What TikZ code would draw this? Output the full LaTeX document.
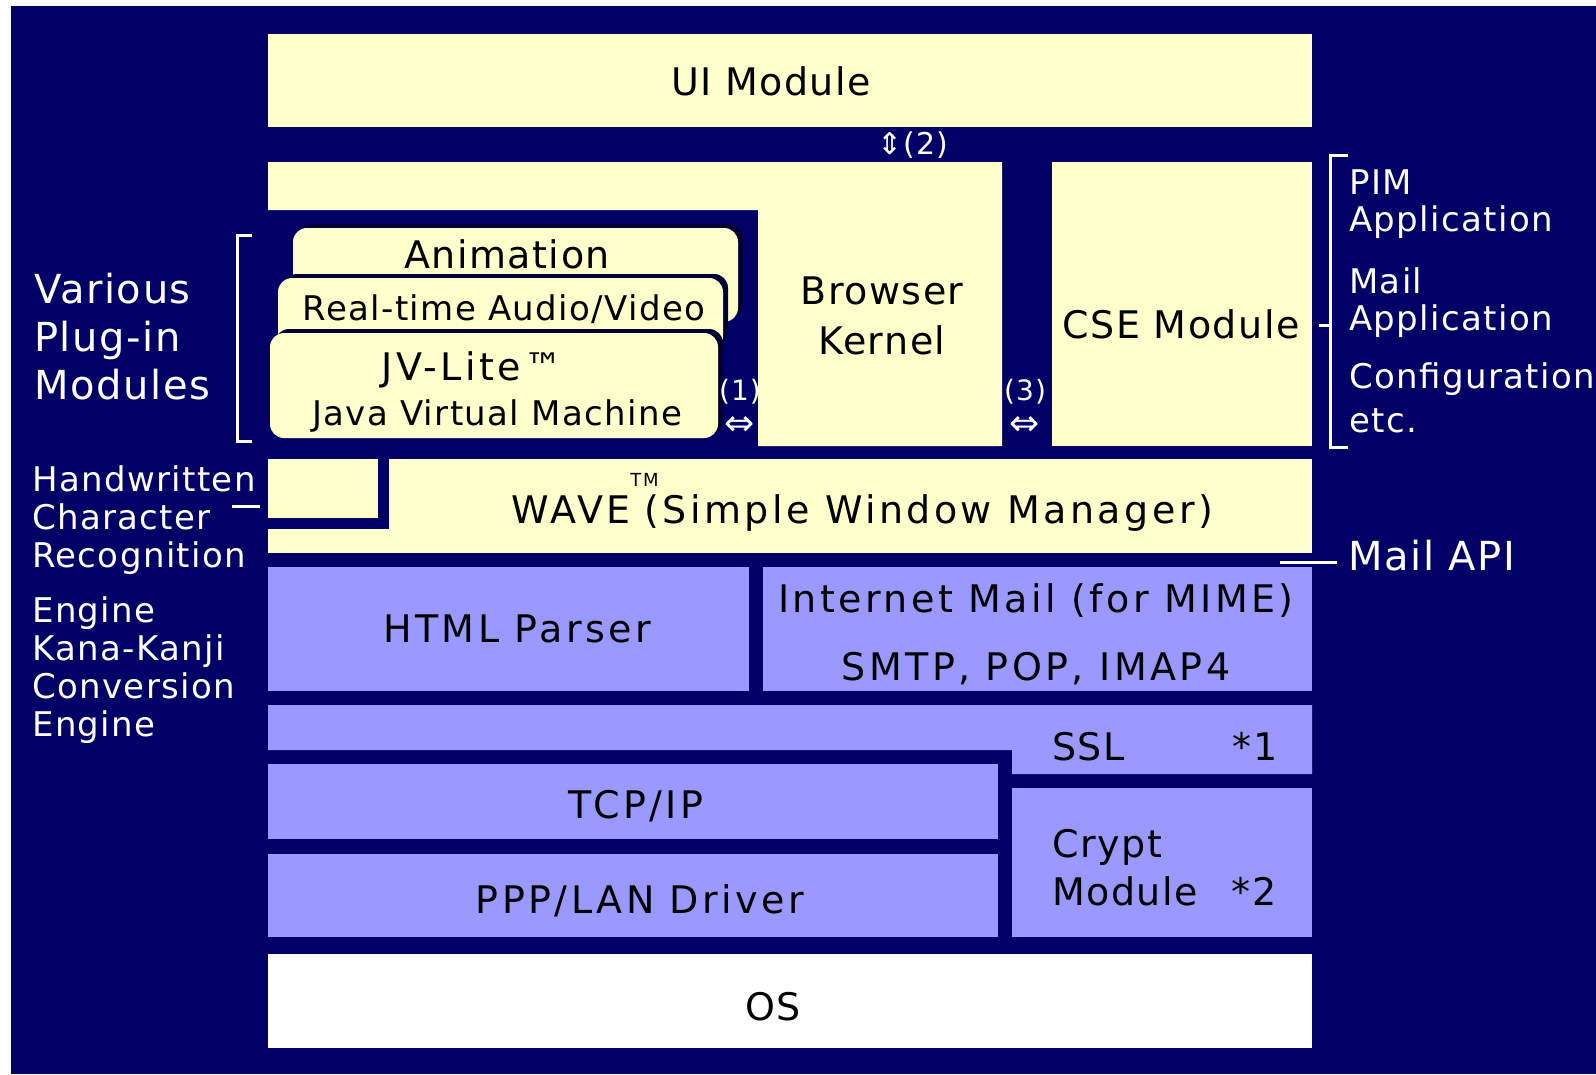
\documentclass[tikz,border=0pt]{standalone}
\usepackage{fontspec}
\setmainfont{DejaVu Sans}[LetterSpace=4]
\definecolor{pnavy}{HTML}{000066}
\definecolor{pcream}{HTML}{FFFFCC}
\definecolor{plilac}{HTML}{9999FF}
\definecolor{pshadow}{HTML}{000033}
\begin{document}
\begin{tikzpicture}[x=1pt, y=-1pt,
    lbl/.style={inner sep=0pt, text=black, font=\fontsize{38}{46}\selectfont},
    wide/.style={lbl, font=\fontsize{38}{46}\selectfont\addfontfeature{LetterSpace=9}},
    side/.style={inner sep=0pt, text=white, align=left, font=\fontsize{34}{37}\selectfont},
    numtag/.style={inner sep=0pt, text=white, align=center, font=\fontsize{28}{35}\selectfont},
    plugbox/.style={fill=pcream, rounded corners=14pt},
    plugshade/.style={fill=pshadow, rounded corners=14pt},
    sidebracket/.style={draw=white, line width=3pt}]
  \useasboundingbox (0,0) rectangle (1596,1074);
  \fill[white] (0,0) rectangle (1596,1074);
  \fill[pnavy] (11,6) rectangle (1596,1074);

  % application layer
  \fill[pcream] (268,34) rectangle (1312,127);
  \node[lbl, anchor=base] (ui) at (771,95) {UI Module};
  \node[numtag, font=\fontsize{30}{30}\selectfont] (two) at (913,145) {⇕(2)};
  \fill[pcream] (268,162) -- (1002,162) -- (1002,446) -- (758,446) -- (758,210) -- (268,210) -- cycle;
  \node[lbl, align=center, anchor=north, font=\fontsize{38}{50}\selectfont] (kernel) at (882,277) {Browser\\Kernel};
  \fill[pcream] (1052,162) rectangle (1312,446);
  \node[lbl, anchor=base] (cse) at (1181,338) {CSE Module};

  % plug-ins
  \foreach \l/\t/\r/\b in {293/228/738/322, 278/278/723/350, 270/333/718/438} {
    \fill[plugshade] (\l+5,\t-4) rectangle (\r+5,\b-4);
    \fill[plugbox] (\l,\t) rectangle (\r,\b);
  }
  \node[lbl, anchor=base] (anim) at (507,268) {Animation};
  \node[lbl, anchor=base, font=\fontsize{34}{40}\selectfont] (rtav) at (504,320) {Real-time Audio/Video};
  \node[wide, anchor=base] (jv) at (472,380) {JV-Lite™};
  \node[lbl, anchor=base, font=\fontsize{34}{40}\selectfont] (jvm) at (497,425) {Java Virtual Machine};
  \node[numtag] (one) at (740,407) {(1)\\{\fontsize{36}{36}\selectfont ⇔}};
  \node[numtag] (three) at (1025,407) {(3)\\{\fontsize{36}{36}\selectfont ⇔}};

  % window manager
  \fill[pcream] (268,459) rectangle (1312,553);
  \fill[pnavy] (268,459) rectangle (389,529);
  \fill[pcream] (268,459) rectangle (378,518);
  \node[wide, anchor=base] (wave) at (862,523) {WAVE\rlap{\raisebox{37pt}{\fontsize{18}{18}\selectfont TM}}\hspace{14pt}(Simple Window Manager)};

  % middleware
  \fill[plilac] (268,567) rectangle (749,691);
  \node[wide, anchor=base] (html) at (517,642) {HTML Parser};
  \fill[plilac] (763,567) rectangle (1312,691);
  \node[wide, align=center, anchor=north, font=\fontsize{38}{68}\selectfont\addfontfeature{LetterSpace=9}] (imail) at (1036,583) {Internet Mail (for MIME)\\SMTP, POP, IMAP4};
  \fill[plilac] (268,705) -- (1312,705) -- (1312,774) -- (1012,774) -- (1012,750) -- (268,750) -- cycle;
  \node[lbl, anchor=base west] (ssl) at (1052,760) {SSL\hspace{108pt}*1};
  \fill[plilac] (268,764) rectangle (998,839);
  \node[wide, anchor=base] (tcp) at (636,818) {TCP/IP};
  \fill[plilac] (268,854) rectangle (998,937);
  \node[wide, anchor=base] (ppp) at (640,913) {PPP/LAN Driver};
  \fill[plilac] (1012,788) rectangle (1312,937);
  \node[lbl, align=left, anchor=north west, font=\fontsize{38}{48}\selectfont] (crypt) at (1052,829) {Crypt\\Module\hspace{34pt}*2};
  \fill[white] (268,954) rectangle (1312,1048);
  \node[lbl, anchor=base] (os) at (773,1020) {OS};

  % side notes
  \node[side, anchor=north west, font=\fontsize{40}{48}\selectfont] (plugins) at (34,273) {Various\\Plug-in\\Modules};
  \draw[sidebracket] (252,235) -- (237,235) -- (237,441) -- (252,441);
  \node[side, anchor=north west, font=\fontsize{34}{38}\selectfont] (engines) at (32,465) {Handwritten\\Character\\Recognition\\[17pt]Engine\\Kana-Kanji\\Conversion\\Engine};
  \coordinate (hwrfrom) at (232,506);
  \coordinate (hwrto) at (260,506);
  \draw[sidebracket] (hwrfrom) -- (hwrto);
  \node[side, anchor=north west] (pim) at (1349,170) {PIM\\Application};
  \node[side, anchor=north west] (mailapp) at (1349,267) {Mail\\Application};
  \node[side, anchor=north west, font=\fontsize{34}{44}\selectfont] (config) at (1349,362) {Configuration\\etc.};
  \draw[sidebracket] (1348,155) -- (1330,155) -- (1330,447) -- (1348,447);
  \coordinate (csetip) at (1319,325);
  \coordinate (bracketmid) at (1330,325);
  \draw[sidebracket] (csetip) -- (bracketmid);
  \node[side, anchor=base west, font=\fontsize{40}{40}\selectfont] (mailapi) at (1348,570) {Mail API};
  \coordinate (apitip) at (1280,562);
  \coordinate (apiend) at (1337,562);
  \draw[sidebracket] (apitip) -- (apiend);
\end{tikzpicture}
\end{document}
